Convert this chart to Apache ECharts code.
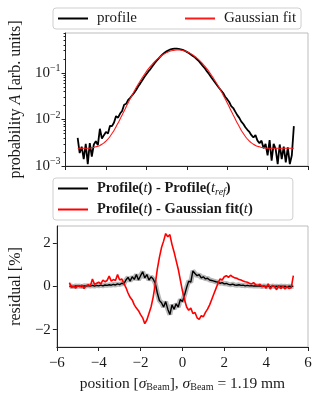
<!DOCTYPE html>
<html>
<head>
<meta charset="utf-8">
<script src="https://cdn.jsdelivr.net/npm/echarts@6/dist/echarts.min.js"></script>
<style>
html,body{margin:0;padding:0;background:#fff;}
#c{width:316px;height:393px;}
</style>
</head>
<body>
<div id="c"></div>
<script>
// ---- data ----
const positions = [
 -5.4,-5.3,-5.2,-5.1,-5.0,-4.9,-4.8,-4.7,-4.6,-4.5,
 -4.4,-4.3,-4.2,-4.1,-4.0,-3.9,-3.8,-3.7,-3.6,-3.5,
 -3.4,-3.3,-3.2,-3.1,-3.0,-2.9,-2.8,-2.7,-2.6,-2.5,
 -2.4,-2.3,-2.2,-2.1,-2.0,-1.9,-1.8,-1.7,-1.6,-1.5,
 -1.4,-1.3,-1.2,-1.1,-1.0,-0.9,-0.8,-0.7,-0.6,-0.5,
 -0.4,-0.3,-0.2,-0.1,0.0,0.1,0.2,0.3,0.4,0.5,
 0.6,0.7,0.8,0.9,1.0,1.1,1.2,1.3,1.4,1.5,
 1.6,1.7,1.8,1.9,2.0,2.1,2.2,2.3,2.4,2.5,
 2.6,2.7,2.8,2.9,3.0,3.1,3.2,3.3,3.4,3.5,
 3.6,3.7,3.8,3.9,4.0,4.1,4.2,4.3,4.4,4.5,
 4.6,4.7,4.8,4.9,5.0,5.1,5.2,5.3
];
const profile = [
 0.0040,0.0019,0.0026,0.0014,0.0030,0.0011,0.0031,0.0016,0.0029,0.0034,
 0.0028,0.0063,0.0039,0.0046,0.0054,0.0050,0.0073,0.0072,0.0086,0.0118,
 0.0109,0.0134,0.0152,0.0207,0.0217,0.0263,0.0292,0.0331,0.0375,0.0435,
 0.0515,0.0596,0.0697,0.0814,0.0937,0.1074,0.1209,0.1395,0.1601,0.1809,
 0.2033,0.2268,0.2506,0.2718,0.2907,0.3062,0.3201,0.3268,0.3333,0.3318,
 0.3284,0.3213,0.3118,0.2986,0.2832,0.2667,0.2488,0.2316,0.2158,0.1958,
 0.1784,0.1581,0.1398,0.1246,0.1079,0.0947,0.0821,0.0712,0.0621,0.0542,
 0.0475,0.0420,0.0371,0.0307,0.0273,0.0237,0.0194,0.0176,0.0147,0.0124,
 0.0108,0.0090,0.0080,0.0068,0.0060,0.0054,0.0046,0.0041,0.0046,0.0035,
 0.0031,0.0035,0.0024,0.0030,0.0017,0.0036,0.0013,0.0030,0.0023,0.0011,
 0.0029,0.0014,0.0026,0.0012,0.0025,0.0011,0.0017,0.0072
];
const gaussFit = [
 0.0024,0.0024,0.0024,0.0024,0.0024,0.0024,0.0024,0.0025,0.0025,0.00258,
 0.00266,0.00277,0.00293,0.00314,0.00342,0.0038,0.0043,0.0050,0.0058,0.0070,
 0.0084,0.0102,0.0124,0.0152,0.0187,0.0228,0.0277,0.0336,0.0405,0.0485,
 0.0577,0.0681,0.0797,0.0926,0.1067,0.1219,0.1381,0.1550,0.1726,0.1904,
 0.2083,0.2258,0.2426,0.2583,0.2727,0.2852,0.2956,0.3038,0.3093,0.3123,
 0.3124,0.3093,0.3038,0.2956,0.2852,0.2727,0.2583,0.2426,0.2258,0.2083,
 0.1904,0.1726,0.1550,0.1381,0.1219,0.1067,0.0926,0.0797,0.0681,0.0577,
 0.0485,0.0405,0.0336,0.0277,0.0228,0.0187,0.0152,0.0124,0.0102,0.0084,
 0.0070,0.0058,0.0050,0.0043,0.0038,0.00342,0.00314,0.00293,0.00277,0.00266,
 0.00258,0.0025,0.0025,0.0024,0.0024,0.0024,0.0024,0.0024,0.0024,0.0024,
 0.0024,0.0024,0.0024,0.0024,0.0024,0.0024,0.0024,0.0024
];
const residRef = [
 0.0,0.02,-0.01,0.03,0.01,0.02,-0.01,0.03,0.02,0.04,
 0.02,0.05,0.02,0.05,0.03,0.06,0.03,0.07,0.05,0.08,
 0.06,0.1,0.07,0.12,0.09,0.15,0.12,0.3,0.42,0.25,
 0.45,0.33,0.55,0.3,0.5,0.68,0.4,0.55,0.3,0.45,
 0.35,0.15,-0.3,-0.65,-0.75,-0.95,-0.7,-1.05,-1.3,-0.85,
 -1.05,-0.8,-0.95,-0.6,-0.7,-0.4,-0.05,0.25,0.2,0.72,
 0.6,0.5,0.55,0.4,0.45,0.35,0.38,0.3,0.28,0.25,
 0.22,0.2,0.15,0.18,0.12,0.14,0.1,0.08,0.11,0.07,
 0.06,0.08,0.05,0.06,0.03,0.05,0.03,0.04,0.02,0.03,
 0.02,0.03,0.0,0.02,0.0,0.02,-0.01,0.02,0.0,0.01,
 -0.01,0.02,0.0,0.01,-0.01,0.01,0.0,0.02
];
const residFit = [
 0.18,-0.05,0.02,-0.08,0.05,-0.02,0.06,-0.1,0.04,0.08,
 0.02,0.35,0.1,0.15,0.2,0.12,0.3,0.22,0.28,0.48,
 0.25,0.32,0.28,0.55,0.3,0.35,0.15,-0.05,-0.3,-0.5,
 -0.62,-0.85,-1.0,-1.12,-1.3,-1.45,-1.72,-1.55,-1.25,-0.95,
 -0.5,0.1,0.8,1.35,1.8,2.1,2.45,2.3,2.4,1.95,
 1.6,1.2,0.8,0.3,-0.2,-0.6,-0.95,-1.1,-1.0,-1.25,
 -1.2,-1.45,-1.52,-1.35,-1.4,-1.2,-1.05,-0.85,-0.6,-0.35,
 -0.1,0.15,0.35,0.3,0.45,0.5,0.42,0.52,0.45,0.4,
 0.38,0.32,0.3,0.25,0.22,0.2,0.15,0.12,0.18,0.08,
 0.05,0.1,0.0,0.05,-0.08,0.12,-0.12,0.05,0.0,-0.15,
 0.05,-0.1,0.02,-0.12,0.0,-0.1,-0.05,0.5
];
const logTicks = [0.001, 0.01, 0.1];
const logMinorTicks = [0.002,0.003,0.004,0.005,0.006,0.007,0.008,0.009,
  0.02,0.03,0.04,0.05,0.06,0.07,0.08,0.09,0.2,0.3,0.4,0.5,0.6,0.7];
const residTicks = [-2, 0, 2];

// ---- chart ----
const FONT = '"Liberation Serif","Times New Roman",serif';
const TXT = '#1a1a1a';
const zip = (a, b) => a.map((v, i) => [v, b[i]]);
const minus = s => String(s).replace('-', '\u2212');

const chart = echarts.init(document.getElementById('c'), null, {renderer: 'canvas'});

const baseX = {
  type: 'value', min: -6, max: 6, interval: 2,
  axisLine: {onZero: false, lineStyle: {color: '#222', width: 1}},
  axisTick: {length: 4, lineStyle: {color: '#222'}},
  splitLine: {show: false},
};

const legendRich = {
  g: {width: 4},
  b: {fontFamily: FONT, fontWeight: 'bold', fontSize: 14.5, color: TXT},
  i: {fontFamily: FONT, fontStyle: 'italic', fontSize: 15, color: TXT},
  n: {fontFamily: FONT, fontSize: 15, color: TXT},
  sub: {fontFamily: FONT, fontStyle: 'italic', fontSize: 10, color: TXT, padding: [7, 0, 0, 0]}
};

const legendNames = {
  'profile': '{g|}{n|profile}',
  'Gaussian fit': '{g|}{n|Gaussian fit}',
  'resRef': '{g|}{b|Profile(}{i|t}{b|) - Profile(}{i|t}{sub|ref}{b|)}',
  'resFit': '{g|}{b|Profile(}{i|t}{b|) - Gaussian fit(}{i|t}{b|)}'
};

chart.setOption({
  animation: false,
  backgroundColor: '#fff',
  textStyle: {fontFamily: FONT},
  grid: [
    {left: 53, right: 8, top: 33, height: 133, show: true, borderColor: '#bdbdbd', borderWidth: 1},
    {left: 53, right: 8, top: 226, height: 131, show: true, borderColor: '#bdbdbd', borderWidth: 1}
  ],
  legend: [
    {
      data: [{name: 'profile', itemStyle: {color: '#000'}}, {name: 'Gaussian fit', itemStyle: {color: '#ff1a1a'}}],
      left: 53, top: 8,
      icon: 'rect', itemWidth: 30, itemHeight: 2, itemGap: 48,
      padding: [3, 5, 3, 5],
      backgroundColor: '#fff', borderColor: '#cfcfcf', borderWidth: 1, borderRadius: 3,
      formatter: n => legendNames[n],
      textStyle: {rich: legendRich, fontFamily: FONT, fontSize: 15},
      selectedMode: false
    },
    {
      data: ['resRef', 'resFit'],
      orient: 'vertical',
      left: 53, top: 178,
      icon: 'rect', itemWidth: 30, itemHeight: 2, itemGap: 5,
      padding: [3, 40, 3, 5],
      backgroundColor: '#fff', borderColor: '#cfcfcf', borderWidth: 1, borderRadius: 3,
      formatter: n => legendNames[n],
      textStyle: {rich: legendRich, fontFamily: FONT, fontSize: 15},
      selectedMode: false
    }
  ],
  xAxis: [
    Object.assign({}, baseX, {gridIndex: 0, axisLabel: {show: false}}),
    Object.assign({}, baseX, {
      gridIndex: 1,
      axisLabel: {color: TXT, fontFamily: FONT, fontSize: 15, margin: 9, formatter: v => minus(v)},
      name: '{n|position [}{i|σ}{s|Beam}{n|], }{i|σ}{s|Beam}{n| = 1.19 mm}',
      nameLocation: 'middle', nameGap: 28,
      nameTextStyle: {rich: {
        n: {fontFamily: FONT, fontSize: 15.5, color: TXT},
        i: {fontFamily: FONT, fontSize: 15.5, fontStyle: 'italic', color: TXT},
        s: {fontFamily: FONT, fontSize: 10, color: TXT, padding: [7, 0, 0, 0]}
      }}
    })
  ],
  yAxis: [
    {
      gridIndex: 0, type: 'log', logBase: 10, min: 0.001, max: 0.72, position: 'left',
      axisLine: {show: true, onZero: false, lineStyle: {color: '#222'}},
      axisTick: {length: 4, customValues: logTicks, lineStyle: {color: '#222'}},
      axisLabel: {
        customValues: logTicks, margin: 5,
        formatter: v => '{b|10}{s|\u2212' + Math.abs(Math.round(Math.log10(v))) + '}',
        rich: {
          b: {fontFamily: FONT, fontSize: 15, color: TXT},
          s: {fontFamily: FONT, fontSize: 10, color: TXT, padding: [0, 0, 9, 0]}
        }
      },
      splitLine: {show: false},
      name: '{n|probability }{i|A}{n| [arb. units]}',
      nameLocation: 'middle', nameGap: 36,
      nameTextStyle: {rich: {
        n: {fontFamily: FONT, fontSize: 16, color: TXT},
        i: {fontFamily: FONT, fontSize: 16, fontStyle: 'italic', color: TXT}
      }}
    },
    {
      gridIndex: 0, type: 'log', logBase: 10, min: 0.001, max: 0.72, position: 'left',
      axisLine: {show: false, onZero: false},
      axisTick: {length: 2, customValues: logMinorTicks, lineStyle: {color: '#222'}},
      axisLabel: {show: false},
      splitLine: {show: false}
    },
    {
      gridIndex: 1, type: 'value', min: -2.8, max: 2.8, position: 'left',
      axisLine: {show: true, onZero: false, lineStyle: {color: '#222'}},
      axisTick: {length: 4, customValues: residTicks, lineStyle: {color: '#222'}},
      axisLabel: {customValues: residTicks, color: TXT, fontFamily: FONT, fontSize: 15, margin: 6, formatter: v => minus(v)},
      splitLine: {show: false},
      name: 'residual [%]',
      nameLocation: 'middle', nameGap: 24,
      nameTextStyle: {fontFamily: FONT, fontSize: 16, color: TXT}
    }
  ],
  series: [
    {name: 'profile', type: 'line', xAxisIndex: 0, yAxisIndex: 0, data: zip(positions, profile),
      symbol: 'none', lineStyle: {color: '#000', width: 1.8}, itemStyle: {color: '#000'}},
    {name: 'Gaussian fit', type: 'line', xAxisIndex: 0, yAxisIndex: 0, data: zip(positions, gaussFit),
      symbol: 'none', smooth: 0.3, lineStyle: {color: '#ff1a1a', width: 1.1}, itemStyle: {color: '#ff1a1a'}},
    {name: 'band', type: 'line', xAxisIndex: 1, yAxisIndex: 2, data: zip(positions, residRef),
      symbol: 'none', lineStyle: {color: 'rgba(0,0,0,0.28)', width: 5}, itemStyle: {color: '#888'}},
    {name: 'resRef', type: 'line', xAxisIndex: 1, yAxisIndex: 2, data: zip(positions, residRef),
      symbol: 'none', lineStyle: {color: '#000', width: 1.4}, itemStyle: {color: '#000'}},
    {name: 'resFit', type: 'line', xAxisIndex: 1, yAxisIndex: 2, data: zip(positions, residFit),
      symbol: 'none', lineStyle: {color: '#ff0000', width: 1.6}, itemStyle: {color: '#ff0000'}}
  ]
});
</script>
</body>
</html>
